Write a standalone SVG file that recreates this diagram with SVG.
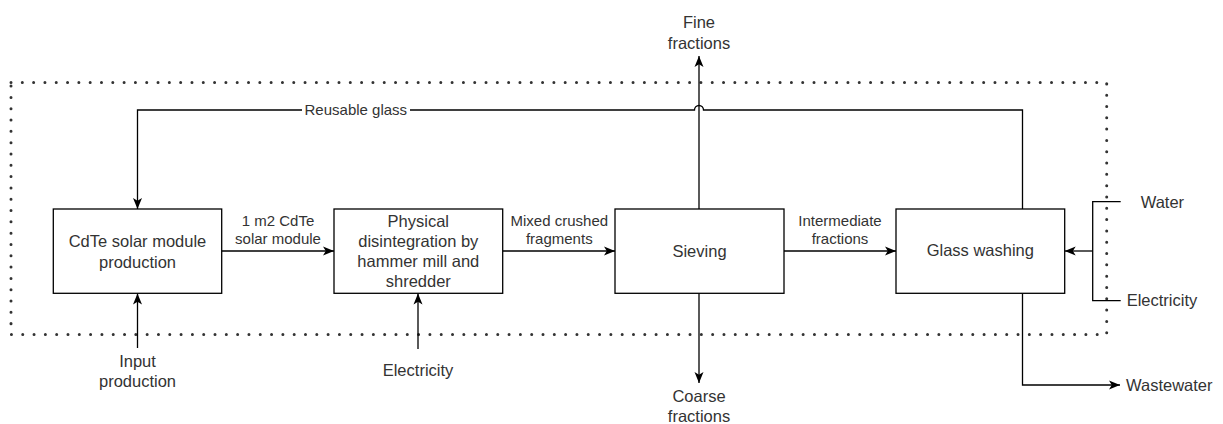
<svg xmlns="http://www.w3.org/2000/svg" width="1223" height="424" viewBox="0 0 1223 424">
<style>
.box{fill:#fff;stroke:#000;stroke-width:1.3}
.ln{fill:none;stroke:#000;stroke-width:1.3}
.arr{fill:none;stroke:#000;stroke-width:1.3;marker-end:url(#ah)}
.t{font-family:"Liberation Sans",Arial,sans-serif;font-size:16.5px;fill:#333;text-anchor:middle}
.e{font-family:"Liberation Sans",Arial,sans-serif;font-size:15px;fill:#333;text-anchor:middle}
.s{text-anchor:start}
</style>
<defs>
<marker id="ah" markerWidth="12" markerHeight="11" refX="11" refY="5.5" orient="auto" markerUnits="userSpaceOnUse">
<path d="M0,1 L11,5.5 L0,10 L2.8,5.5 z" fill="#000"/>
</marker>
</defs>
<rect id="boundary" x="11" y="82.5" width="1095.7" height="252" fill="none" stroke="#333" stroke-width="3" stroke-linecap="round" stroke-dasharray="0.01 11.3"/>
<g id="connectors">
<path class="arr" d="M1022.5 209 V110 H703.5 A4.5 4.5 0 0 0 694.5 110 H137.5 V209"/>
<rect x="302" y="102" width="108" height="16" fill="#fff"/>
<text class="e" x="355.8" y="115.3">Reusable glass</text>
<path class="arr" d="M221.5 251 H334"/>
<path class="arr" d="M502.5 251 H615"/>
<path class="arr" d="M784 251 H896"/>
<path class="arr" d="M699 209 V56"/>
<path class="arr" d="M699 293 V383"/>
<path class="arr" d="M137.5 348 V293.5"/>
<path class="arr" d="M418 349 V293.5"/>
<path class="ln" d="M1120.7 201.7 H1092.7 V300.7 H1120.7"/>
<path class="arr" d="M1092.7 251 H1064.7"/>
<path class="arr" d="M1022.5 293.5 V385 H1120"/>
<text class="e" x="278" y="226">1 m2 CdTe</text>
<text class="e" x="278" y="244">solar module</text>
<text class="e" x="559.3" y="226">Mixed crushed</text>
<text class="e" x="559.3" y="244">fragments</text>
<text class="e" x="840" y="226">Intermediate</text>
<text class="e" x="840" y="244">fractions</text>
</g>
<g id="n1"><rect class="box" x="53.3" y="209" width="168.4" height="84.3"/>
<text class="t" x="137.5" y="246.5">CdTe solar module</text><text class="t" x="137.5" y="267.5">production</text></g>
<g id="n2"><rect class="box" x="334" y="209" width="168.7" height="84.3"/>
<text class="t" x="418.3" y="226.8">Physical</text><text class="t" x="418.3" y="246.8">disintegration by</text><text class="t" x="418.3" y="266.8">hammer mill and</text><text class="t" x="418.3" y="286.8">shredder</text></g>
<g id="n3"><rect class="box" x="615" y="209" width="169" height="84.3"/>
<text class="t" x="699.5" y="256.8">Sieving</text></g>
<g id="n4"><rect class="box" x="896" y="209" width="168.7" height="84.3"/>
<text class="t" x="980.3" y="256">Glass washing</text></g>
<g id="fine"><text class="t" x="699" y="27.8">Fine</text><text class="t" x="699" y="48.8">fractions</text></g>
<g id="coarse"><text class="t" x="699" y="401.5">Coarse</text><text class="t" x="699" y="421.5">fractions</text></g>
<g id="input"><text class="t" x="137.5" y="366.5">Input</text><text class="t" x="137.5" y="386.8">production</text></g>
<g id="elec1"><text class="t" x="418" y="375.8">Electricity</text></g>
<g id="water"><text class="t s" x="1140.7" y="207.5">Water</text></g>
<g id="elec2"><text class="t s" x="1126.7" y="305.8">Electricity</text></g>
<g id="waste"><text class="t s" x="1126" y="390.8">Wastewater</text></g>
</svg>
